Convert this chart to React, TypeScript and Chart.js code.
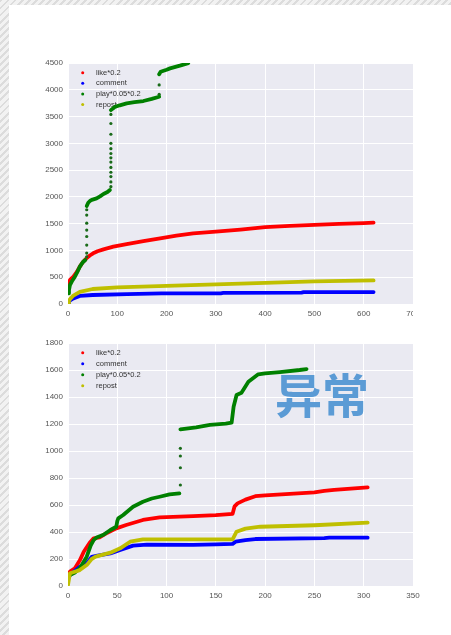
import React, { useEffect, useRef } from "react";
import { Chart, registerables } from "chart.js";
Chart.register(...registerables);

type P = [number, number];

const SERIES_LABELS = ["like*0.2", "comment", "play*0.05*0.2", "repost"];
const SERIES_COLORS = ["#ff0000", "#0000ff", "#008000", "#bfbf00"];
// draw order: lower = on top
const SERIES_ORDER = [3, 2, 1, 0];

const topXTicks = [0, 100, 200, 300, 400, 500, 600, 700];
const topYTicks = [0, 500, 1000, 1500, 2000, 2500, 3000, 3500, 4000, 4500];
const bottomXTicks = [0, 50, 100, 150, 200, 250, 300, 350];
const bottomYTicks = [0, 200, 400, 600, 800, 1000, 1200, 1400, 1600, 1800];

// ---------- top chart ----------
const topLike: P[] = [
  [0, 380], [2, 416], [5, 460], [11, 510], [18, 600], [24, 697], [30, 780], [38, 860],
  [45, 910], [51, 946], [60, 985], [72, 1021], [92, 1070], [119, 1120], [153, 1176],
  [187, 1226], [220, 1276], [254, 1320], [300, 1350], [350, 1390], [400, 1437],
  [450, 1460], [500, 1478], [550, 1495], [600, 1512], [620, 1518],
];
const topComment: P[] = [
  [0, 20], [2, 45], [6, 80], [11, 105], [24, 150], [50, 168], [120, 185], [190, 198],
  [310, 200], [315, 207], [474, 212], [478, 220], [620, 222],
];
const topRepost: P[] = [
  [0, 20], [2, 60], [5, 100], [10, 150], [24, 225], [50, 280], [100, 310], [200, 338],
  [300, 368], [400, 395], [500, 422], [620, 440],
];
const topPlaySeg1: P[] = [
  [0, 200], [2, 260], [4, 355], [9, 440], [14, 510], [19, 600], [24, 697], [30, 780], [35, 821],
];
const topPlaySeg2: P[] = [
  [38, 1830], [41, 1890], [45, 1929], [50, 1950], [58, 1973], [65, 2010], [72, 2054], [80, 2090], [85, 2128],
];
const topPlaySeg3: P[] = [
  [87, 3620], [95, 3680], [105, 3710], [119, 3747], [135, 3770], [153, 3790], [170, 3830], [185, 3870],
];
const topPlaySeg4: P[] = [
  [185, 4290], [188, 4337], [200, 4375], [207, 4400], [227, 4450], [244, 4498],
];
const topPlayDots: P[] = [
  [38, 880], [38, 950], [38, 1100], [38, 1260], [38, 1380], [38, 1510], [38, 1660], [38, 1760],
  [87, 2190], [87, 2280], [87, 2380], [87, 2460], [87, 2550], [87, 2650], [87, 2730], [87, 2810],
  [87, 2900], [87, 3000], [87, 3170], [87, 3370], [87, 3540],
  [185, 3915], [185, 4090],
];

// ---------- bottom chart ----------
const botLike: P[] = [
  [0, 90], [2, 106], [7, 131], [12, 190], [16, 254], [22, 320], [26, 353], [32, 360], [40, 395],
  [49, 427], [59, 452], [76, 489], [93, 509], [127, 518], [150, 525], [167, 535], [169, 590],
  [172, 612], [180, 640], [190, 665], [200, 672], [250, 693], [260, 705], [270, 712], [304, 730],
];
const botComment: P[] = [
  [0, 60], [2, 81], [12, 143], [19, 168], [24, 215], [30, 225], [43, 242], [53, 267], [66, 299],
  [80, 306], [127, 304], [150, 308], [167, 312], [170, 328], [180, 340], [190, 348], [260, 355],
  [265, 358], [304, 358],
];
const botRepost: P[] = [
  [0, 7], [2, 94], [12, 118], [19, 155], [24, 200], [28, 217], [43, 247], [53, 279], [63, 328],
  [76, 346], [127, 346], [167, 345], [171, 402], [180, 425], [195, 439], [250, 450], [304, 469],
];
const botPlaySeg1: P[] = [
  [0, 75], [2, 81], [7, 100], [12, 131], [19, 217], [23, 300], [26, 340], [29, 360], [36, 380],
  [43, 415], [49, 439], [50, 480], [51, 501], [56, 526], [66, 587], [76, 624], [85, 648],
  [93, 661], [103, 678], [113, 686],
];
const botPlaySeg2: P[] = [
  [114, 1161], [130, 1175], [144, 1193], [160, 1203], [166, 1210], [168, 1328], [171, 1415],
  [176, 1432], [183, 1513], [193, 1568], [200, 1575], [215, 1585], [235, 1600], [242, 1607],
];
const botPlayDots: P[] = [
  [114, 748], [114, 876], [114, 963], [114, 1020],
];

const FONT = "'Liberation Sans', Arial, Helvetica, sans-serif";

const bgPlugin = {
  id: "plotBg",
  beforeDraw(chart: any) {
    const { ctx, chartArea: a } = chart;
    ctx.save();
    ctx.fillStyle = "#EAEAF2";
    ctx.fillRect(a.left, a.top, a.right - a.left, a.bottom - a.top);
    ctx.restore();
  },
};

const legendPlugin = {
  id: "innerLegend",
  beforeDatasetsDraw(chart: any, _args: any, opts: any) {
    const { ctx, chartArea: a } = chart;
    const gap = opts.gap ?? 10.8;
    ctx.save();
    ctx.font = `7.5px ${FONT}`;
    ctx.textBaseline = "middle";
    ctx.textAlign = "left";
    SERIES_LABELS.forEach((lab, i) => {
      const y = a.top + 9.7 + i * gap;
      ctx.fillStyle = SERIES_COLORS[i];
      ctx.beginPath();
      ctx.arc(a.left + 14.7, y, 1.5, 0, Math.PI * 2);
      ctx.fill();
      ctx.fillStyle = "#333";
      ctx.fillText(lab, a.left + 28, y);
    });
    ctx.restore();
  },
};

const toXY = (arr: P[]) => arr.map(([x, y]) => ({ x, y }));

function lineDs(series: number, arr: P[]) {
  return {
    label: SERIES_LABELS[series],
    data: toXY(arr),
    showLine: true,
    pointRadius: 0,
    borderWidth: 3.8,
    borderColor: SERIES_COLORS[series],
    backgroundColor: SERIES_COLORS[series],
    borderJoinStyle: "round",
    borderCapStyle: "round",
    tension: 0,
    order: SERIES_ORDER[series],
  };
}

function dotDs(series: number, arr: P[]) {
  return {
    label: SERIES_LABELS[series],
    data: toXY(arr),
    showLine: false,
    pointRadius: 1.6,
    pointBorderWidth: 0,
    pointBackgroundColor: "#1a6b1a",
    backgroundColor: "#1a6b1a",
    order: SERIES_ORDER[series],
  };
}

function axis(ticks: number[], isX: boolean, size: number) {
  return {
    type: "linear",
    min: ticks[0],
    max: ticks[ticks.length - 1],
    afterBuildTicks: (s: any) => {
      s.ticks = ticks.map((v) => ({ value: v }));
    },
    afterFit: (s: any) => {
      if (isX) s.height = size;
      else s.width = size;
    },
    grid: { color: "#ffffff", lineWidth: 1, drawTicks: false },
    border: { display: false },
    ticks: {
      padding: isX ? 4.5 : 5,
      color: "#555",
      font: { family: FONT, size: 8 },
      maxRotation: 0,
      autoSkip: false,
      callback: (v: any) => String(v),
    },
  };
}

function makeConfig(datasets: any[], xTicks: number[], yTicks: number[], gap: number): any {
  return {
    type: "scatter",
    data: { datasets },
    options: {
      responsive: false,
      animation: false,
      events: [],
      layout: { padding: { left: 0, right: 17, top: 13, bottom: 0 } },
      plugins: {
        legend: { display: false },
        tooltip: { enabled: false },
        innerLegend: { gap },
      },
      scales: {
        x: axis(xTicks, true, 21),
        y: axis(yTicks, false, 38),
      },
    },
    plugins: [bgPlugin, legendPlugin],
  };
}

const topConfig = () =>
  makeConfig(
    [
      lineDs(0, topLike),
      lineDs(1, topComment),
      lineDs(2, topPlaySeg1),
      lineDs(2, topPlaySeg2),
      lineDs(2, topPlaySeg3),
      lineDs(2, topPlaySeg4),
      dotDs(2, topPlayDots),
      lineDs(3, topRepost),
    ],
    topXTicks,
    topYTicks,
    10.6
  );

const bottomConfig = () =>
  makeConfig(
    [
      lineDs(0, botLike),
      lineDs(1, botComment),
      lineDs(2, botPlaySeg1),
      lineDs(2, botPlaySeg2),
      dotDs(2, botPlayDots),
      lineDs(3, botRepost),
    ],
    bottomXTicks,
    bottomYTicks,
    11
  );

function ChartBox({ make, left, top, height, clipWidth }: any) {
  const ref = useRef<HTMLCanvasElement>(null);
  useEffect(() => {
    const c = new Chart(ref.current as HTMLCanvasElement, make());
    return () => c.destroy();
  }, []);
  return (
    <div
      style={{
        position: "absolute",
        left,
        top,
        width: clipWidth,
        height,
        overflow: "hidden",
      }}
    >
      <canvas ref={ref} width={400} height={height} style={{ width: 400, height, display: "block" }} />
    </div>
  );
}

export default function App() {
  return (
    <div
      style={{
        position: "absolute",
        left: 0,
        top: 0,
        width: 451,
        height: 635,
        overflow: "hidden",
        background:
          "repeating-linear-gradient(135deg, #dcdcdc 0px, #dcdcdc 2px, #f2f2f2 2px, #f2f2f2 5px)",
      }}
    >
      <div
        style={{
          position: "absolute",
          left: 9,
          top: 5,
          right: 0,
          bottom: 0,
          background: "#ffffff",
        }}
      />
      <ChartBox make={topConfig} left={30} top={50} height={275} clipWidth={383} />
      <ChartBox make={bottomConfig} left={30} top={330} height={277} clipWidth={400} />
      <div
        style={{
          position: "absolute",
          left: 275,
          top: 367,
          fontFamily: "'Noto Sans CJK SC', sans-serif",
          fontWeight: 700,
          fontSize: 47,
          lineHeight: "52px",
          color: "#5b9bd5",
          whiteSpace: "nowrap",
        }}
      >
        异常
      </div>
    </div>
  );
}
